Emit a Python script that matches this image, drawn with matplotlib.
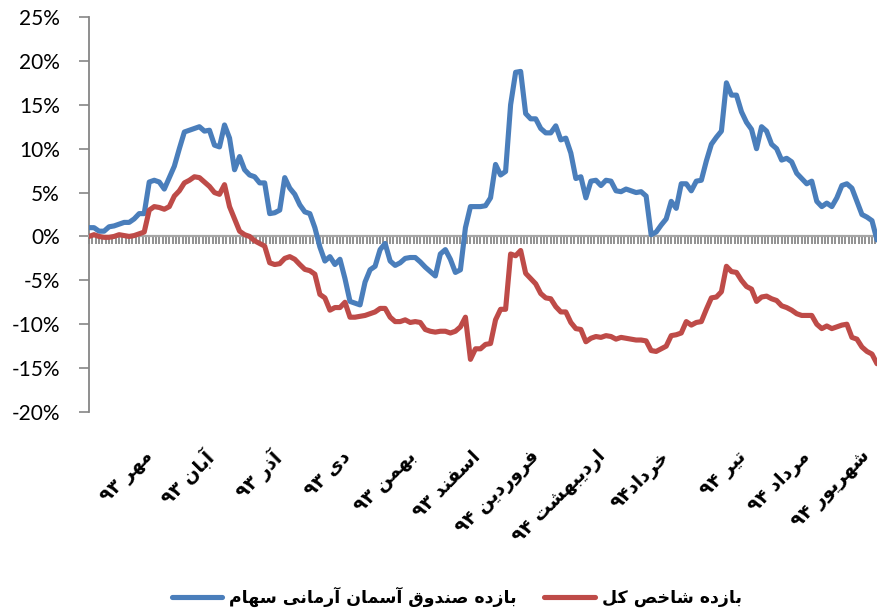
import re
import numpy as np
import matplotlib
matplotlib.use("Agg")
import matplotlib.pyplot as plt
from matplotlib.ticker import MultipleLocator, FuncFormatter
from matplotlib.lines import Line2D

# daily returns (%)
fund_return = [
    1.0, 1.0, 0.6, 0.6, 1.1, 1.2, 1.4, 1.6, 1.6, 2.0,
    2.6, 2.6, 6.2, 6.4, 6.2, 5.4, 6.7, 8.0, 10.0, 11.9,
    12.1, 12.3, 12.5, 12.0, 12.1, 10.4, 10.2, 12.7, 11.2, 7.6,
    9.1, 7.6, 7.0, 6.8, 6.1, 6.1, 2.6, 2.7, 3.0, 6.7,
    5.5, 4.8, 3.6, 2.8, 2.6, 1.0, -1.2, -2.8, -2.3, -3.2,
    -2.6, -4.8, -7.4, -7.6, -7.8, -5.2, -3.8, -3.4, -1.5, -0.8,
    -2.8, -3.3, -3.0, -2.5, -2.4, -2.4, -2.9, -3.5, -4.0, -4.5,
    -2.0, -1.5, -2.6, -4.1, -3.8, 1.0, 3.4, 3.4, 3.4, 3.5,
    4.4, 8.2, 7.0, 7.4, 15.0, 18.7, 18.8, 14.0, 13.4, 13.4,
    12.3, 11.8, 11.8, 12.6, 11.0, 11.2, 9.5, 6.6, 6.8, 4.4,
    6.3, 6.4, 5.8, 6.4, 6.3, 5.2, 5.1, 5.4, 5.2, 5.0,
    5.1, 4.6, 0.2, 0.5, 1.3, 2.0, 4.0, 3.2, 6.0, 6.0,
    5.2, 6.3, 6.4, 8.6, 10.5, 11.3, 12.0, 17.5, 16.1, 16.1,
    14.2, 13.0, 12.2, 10.0, 12.5, 12.0, 10.5, 10.0, 8.7, 8.9,
    8.5, 7.2, 6.6, 6.0, 6.3, 4.0, 3.4, 3.8, 3.4, 4.4,
    5.8, 6.0, 5.5, 4.0, 2.5, 2.2, 1.8, -0.4,
]
index_return = [
    0.0, 0.2, 0.0, -0.1, -0.1, 0.0, 0.2, 0.1, 0.0, 0.1,
    0.3, 0.5, 3.0, 3.4, 3.3, 3.1, 3.4, 4.6, 5.2, 6.1,
    6.4, 6.8, 6.7, 6.2, 5.7, 5.0, 4.8, 5.9, 3.4, 2.0,
    0.6, 0.2, 0.0, -0.5, -0.8, -1.1, -3.0, -3.2, -3.1, -2.5,
    -2.3, -2.6, -3.2, -3.75, -3.9, -4.3, -6.6, -7.0, -8.4, -8.1,
    -8.1, -7.5, -9.2, -9.2, -9.1, -9.0, -8.8, -8.6, -8.2, -8.2,
    -9.2, -9.7, -9.7, -9.5, -9.8, -9.7, -9.8, -10.6, -10.8, -10.9,
    -10.8, -10.8, -11.0, -10.8, -10.3, -9.2, -14.0, -12.8, -12.8, -12.3,
    -12.2, -9.5, -8.3, -8.3, -2.0, -2.2, -1.6, -4.2, -4.8, -5.4,
    -6.5, -7.0, -7.1, -8.0, -8.6, -8.6, -9.8, -10.5, -10.6, -12.0,
    -11.6, -11.4, -11.5, -11.3, -11.4, -11.7, -11.5, -11.6, -11.7, -11.8,
    -11.8, -11.9, -13.0, -13.1, -12.8, -12.5, -11.3, -11.2, -11.0, -9.7,
    -10.1, -9.8, -9.7, -8.3, -7.0, -6.9, -6.3, -3.4, -4.0, -4.1,
    -5.0, -5.7, -6.0, -7.4, -6.9, -6.8, -7.1, -7.3, -7.9, -8.1,
    -8.4, -8.8, -9.0, -9.0, -9.0, -10.0, -10.5, -10.2, -10.5, -10.3,
    -10.1, -10.0, -11.5, -11.7, -12.6, -13.1, -13.4, -14.5,
]
month_labels = ["مهر ۹۳", "آبان ۹۳", "آذر ۹۳", "دی ۹۳", "بهمن ۹۳", "اسفند ۹۳",
                "فروردین ۹۴", "اردیبهشت ۹۴", "خرداد۹۴", "تیر ۹۴", "مرداد ۹۴", "شهریور ۹۴"]
month_pos = [12.2, 24.1, 37.5, 51.4, 64.5, 77.3, 89.2, 102.4, 115.1, 130.3, 143.0, 155.0]
series_names = ["بازده صندوق آسمان آرمانی سهام", "بازده شاخص کل"]

# simple persian shaping (matplotlib has no bidi / joining)
FORMS = {
    'ا': ('\uFE8D', '\uFE8E', None, None), 'آ': ('\uFE81', '\uFE82', None, None),
    'ب': ('\uFE8F', '\uFE90', '\uFE91', '\uFE92'), 'ت': ('\uFE95', '\uFE96', '\uFE97', '\uFE98'),
    'خ': ('\uFEA5', '\uFEA6', '\uFEA7', '\uFEA8'), 'د': ('\uFEA9', '\uFEAA', None, None),
    'ذ': ('\uFEAB', '\uFEAC', None, None), 'ر': ('\uFEAD', '\uFEAE', None, None),
    'ز': ('\uFEAF', '\uFEB0', None, None), 'س': ('\uFEB1', '\uFEB2', '\uFEB3', '\uFEB4'),
    'ش': ('\uFEB5', '\uFEB6', '\uFEB7', '\uFEB8'), 'ص': ('\uFEB9', '\uFEBA', '\uFEBB', '\uFEBC'),
    'ف': ('\uFED1', '\uFED2', '\uFED3', '\uFED4'), 'ق': ('\uFED5', '\uFED6', '\uFED7', '\uFED8'),
    'ل': ('\uFEDD', '\uFEDE', '\uFEDF', '\uFEE0'), 'م': ('\uFEE1', '\uFEE2', '\uFEE3', '\uFEE4'),
    'ن': ('\uFEE5', '\uFEE6', '\uFEE7', '\uFEE8'), 'ه': ('\uFEE9', '\uFEEA', '\uFEEB', '\uFEEC'),
    'و': ('\uFEED', '\uFEEE', None, None), 'ک': ('\uFB8E', '\uFB8F', '\uFB90', '\uFB91'),
    'ی': ('\uFBFC', '\uFBFD', '\uFBFE', '\uFBFF'),
}
DIGITS = "۰۱۲۳۴۵۶۷۸۹"


def shape(word):
    out = []
    for i, c in enumerate(word):
        if c not in FORMS:
            out.append(c)
            continue
        prev = word[i - 1] if i > 0 else None
        nxt = word[i + 1] if i + 1 < len(word) else None
        jp = prev in FORMS and FORMS[prev][2] is not None
        jn = nxt in FORMS and FORMS[c][2] is not None
        f = FORMS[c]
        out.append(f[3] if jp and jn else f[1] if jp else f[2] if jn else f[0])
    return "".join(out)


def fa(text):
    runs = re.findall("[" + DIGITS + "]+|[^" + DIGITS + "]+", text)
    vis = [r if r[0] in DIGITS else shape(r)[::-1] for r in runs]
    return "".join(reversed(vis))


x = np.arange(len(fund_return))
blue = "#4A7EBB"
red = "#BE4B48"
grey = "#868686"

fig = plt.figure(figsize=(8.78, 6.12), dpi=100)
ax = fig.add_axes([89 / 878, 1 - 412 / 612, (877 - 89) / 878, (412 - 17) / 612])

ax.plot(x, fund_return, color=blue, lw=3.7, solid_joinstyle="round", solid_capstyle="round", zorder=3)
ax.plot(x, index_return, color=red, lw=3.7, solid_joinstyle="round", solid_capstyle="round", zorder=3)

ax.set_xlim(0, len(x) - 1)
ax.set_ylim(-20, 25)
ax.yaxis.set_major_locator(MultipleLocator(5))
ax.yaxis.set_major_formatter(FuncFormatter(lambda v, p: "%d%%" % round(v)))
ax.tick_params(axis="y", direction="out", length=7, width=1.2, color=grey, pad=14,
               labelsize=15)
for t in ax.get_yticklabels():
    t.set_fontfamily("Lato")

ax.spines["top"].set_visible(False)
ax.spines["right"].set_visible(False)
ax.spines["left"].set_color(grey)
ax.spines["left"].set_linewidth(1.3)
ax.spines["bottom"].set_position(("data", 0))
ax.spines["bottom"].set_color("#a6a6a6")
ax.spines["bottom"].set_linewidth(1.6)
ax.xaxis.set_major_locator(MultipleLocator(2 / 3))
ax.tick_params(axis="x", direction="out", length=6, width=1.2, color="#7f7f7f", labelbottom=False)

for pos, lab in zip(month_pos, month_labels):
    ax.annotate(fa(lab), xy=(pos, 0), xycoords=("data", "axes fraction"),
                xytext=(-5, -25), textcoords="offset points", rotation=45,
                ha="right", va="top", rotation_mode="anchor",
                fontsize=13.5, fontweight="bold", family="DejaVu Sans")

handles = [Line2D([], [], color=blue, lw=3.7, solid_capstyle="round"),
           Line2D([], [], color=red, lw=3.7, solid_capstyle="round")]
fig.legend(handles, [fa(s) for s in series_names], loc="center",
           bbox_to_anchor=(0.52, 1 - 597 / 612), ncol=2, frameon=False,
           prop={"family": "DejaVu Sans", "weight": "bold", "size": 12.5},
           handlelength=2.9, handletextpad=0.4, columnspacing=1.6)

fig.savefig("out.png", dpi=100)
